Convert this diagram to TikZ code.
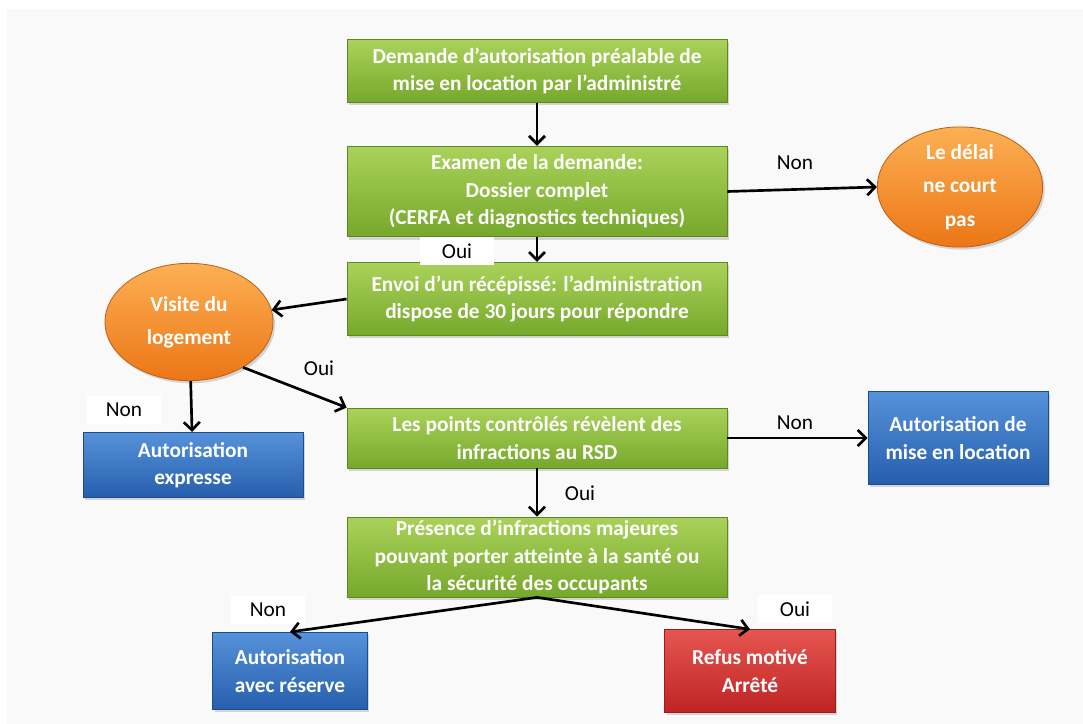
\documentclass[tikz,border=0pt]{standalone}
\usepackage{fontspec}
\setmainfont{Carlito}
\usetikzlibrary{arrows.meta,shapes.geometric,shadows}

\definecolor{grtop}{RGB}{170,210,90}
\definecolor{grbot}{RGB}{118,168,44}
\definecolor{ortop}{RGB}{252,176,84}
\definecolor{orbot}{RGB}{236,118,22}
\definecolor{bltop}{RGB}{86,146,218}
\definecolor{blbot}{RGB}{38,94,172}
\definecolor{rdtop}{RGB}{230,86,80}
\definecolor{rdbot}{RGB}{190,36,36}

\tikzset{
  base/.style={text=white, font=\fontsize{16pt}{20.5pt}\selectfont\bfseries, align=center,
    inner sep=2pt, drop shadow={shadow xshift=1.5pt, shadow yshift=-2pt, opacity=.3}},
  greenbox/.style={base, rectangle, draw=grbot!80!black, line width=.6pt,
    top color=grtop, bottom color=grbot, minimum width=285pt},
  bluebox/.style={base, rectangle, draw=blbot!80!black, line width=.6pt,
    top color=bltop, bottom color=blbot},
  redbox/.style={base, rectangle, draw=rdbot!80!black, line width=.6pt,
    top color=rdtop, bottom color=rdbot},
  orangeell/.style={base, ellipse, draw=orbot!80!black, line width=.6pt,
    top color=ortop, bottom color=orbot, inner sep=0pt,
    font=\fontsize{16pt}{25pt}\selectfont\bfseries},
  arr/.style={-{Straight Barb[length=6pt,width=12pt]}, line width=2pt},
  ans/.style={font=\fontsize{16pt}{19pt}\selectfont, text=black},
  ansbg/.style={ans, fill=white, minimum width=56pt, minimum height=21pt}
}

\begin{document}
\begin{tikzpicture}[x=0.75pt, y=-0.75pt]
\useasboundingbox (0,0) rectangle (1083,724);
\fill[white] (0,0) rectangle (1083,724);
\fill[gray!5] (7,9) rectangle (1083,724);

\node[greenbox, minimum height=47pt] (dem) at (537,71) {Demande d’autorisation préalable de\\mise en location par l’administré};
\node[greenbox, minimum height=68pt] (exam) at (537,191.5) {Examen de la demande:\\Dossier complet\\(CERFA et diagnostics techniques)};
\node[greenbox, minimum height=55pt] (envoi) at (537,299) {Envoi d’un récépissé: l’administration\\dispose de 30 jours pour répondre};
\node[greenbox, minimum height=45pt] (points) at (537,438) {Les points contrôlés révèlent des\\infractions au RSD};
\node[greenbox, minimum height=60pt] (pres) at (537,557) {Présence d’infractions majeures\\pouvant porter atteinte à la santé ou\\la sécurité des occupants};

\node[orangeell, minimum width=124pt, minimum height=82pt] (delai) at (960,187) {Le délai\\ne court\\pas};
\node[orangeell, minimum width=126pt, minimum height=88pt] (visite) at (189,322) {Visite du\\logement};

\node[bluebox, minimum width=135pt, minimum height=70pt] (loc) at (958,438) {Autorisation de\\mise en location};
\node[bluebox, minimum width=165pt, minimum height=49pt] (expr) at (193,465) {Autorisation\\expresse};
\node[bluebox, minimum width=116pt, minimum height=58pt] (reserve) at (290,671) {Autorisation\\avec réserve};
\node[redbox, minimum width=128pt, minimum height=62pt] (refus) at (750,671) {Refus motivé\\Arrêté};

\node[ansbg] (o1) at (457,251) {Oui};
\node[ansbg] (n2) at (124,410) {Non};
\node[ansbg] (n4) at (268,610) {Non};
\node[ansbg] (o4) at (795,609) {Oui};
\node[ans] (n1) at (795,163) {Non};
\node[ans] (o2) at (319,368) {Oui};
\node[ans] (n3) at (795,423) {Non};
\node[ans] (o3) at (580,493) {Oui};

\draw[arr] (dem) -- (exam);
\draw[arr] (exam.east) -- (delai.west);
\draw[arr] (exam) -- (envoi);
\draw[arr] (envoi.west) -- (visite);
\draw[arr] (visite.-40) -- (points.north west);
\draw[arr] (visite) -- (expr);
\draw[arr] (points) -- (loc);
\draw[arr] (points) -- (pres);
\draw[arr] (pres.south) -- (reserve.north);
\draw[arr] (pres.south) -- (refus.north);
\end{tikzpicture}
\end{document}
